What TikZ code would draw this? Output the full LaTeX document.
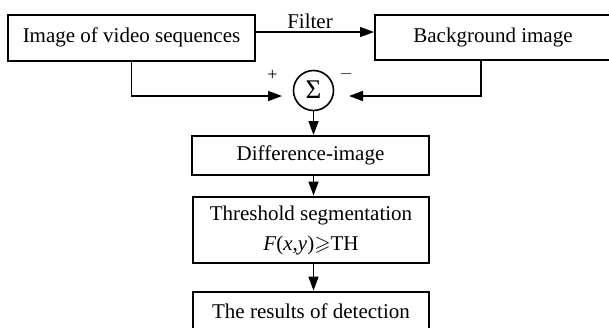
\documentclass[tikz,border=0pt]{standalone}
\usepackage{amssymb}
\usepackage{fontspec}
\setmainfont{Liberation Serif}
\usetikzlibrary{arrows.meta}
\begin{document}
\begin{tikzpicture}[x=1pt,y=-1pt,
  box/.style={draw, line width=2pt, rectangle, inner sep=0pt, font=\fontsize{21}{30}\selectfont},
  thickbox/.style={box, line width=2.8pt},
  arr/.style={line width=1.5pt, -{Triangle[length=14pt,width=10pt]}},
  lbl/.style={inner sep=0pt, font=\fontsize{21}{25}\selectfont},
  sgn/.style={inner sep=0pt, font=\fontsize{18}{20}\selectfont}]
\useasboundingbox (0,0) rectangle (609,327);
\node[box, minimum width=247pt, minimum height=46pt] (img) at (131.5,37.5) {Image of video sequences};
\node[box, minimum width=236pt, minimum height=45pt] (bg) at (493,37.5) {Background image};
\coordinate (fy) at (0,32);
\draw[arr] (img.east |- fy) -- (bg.west |- fy);
\node[lbl] (filter) at (310,21) {Filter};
\node[draw, circle, line width=1.6pt, minimum size=40pt, inner sep=0pt, font=\fontsize{27}{30}\selectfont] (sum) at (313.5,90.5) {\raisebox{1pt}{Σ}};
\coordinate (inL) at (282,96);
\coordinate (inR) at (349,96);
\draw[arr] (img.south) |- (inL);
\draw[arr] (bg.south -| 481,0) |- (inR);
\node[sgn] (plus) at (272.5,75) {+};
\node[sgn] (minus) at (346,74) {$-$};
\node[box, minimum width=237pt, minimum height=39pt] (diff) at (310.5,155.5) {Difference-image};
\node[thickbox, minimum width=236pt, minimum height=66pt, align=center] (thr) at (311,230)
  {Threshold segmentation\\\textit{F}(\textit{x},\textit{y})$\geqslant$TH};
\node[thickbox, minimum width=236pt, minimum height=38pt] (res) at (311,311) {The results of detection};
\draw[arr] (sum.south) -- (sum.south |- diff.north);
\draw[arr] (diff.south -| sum.south) -- (thr.north -| sum.south);
\draw[arr] (thr.south -| sum.south) -- (res.north -| sum.south);
\end{tikzpicture}
\end{document}
